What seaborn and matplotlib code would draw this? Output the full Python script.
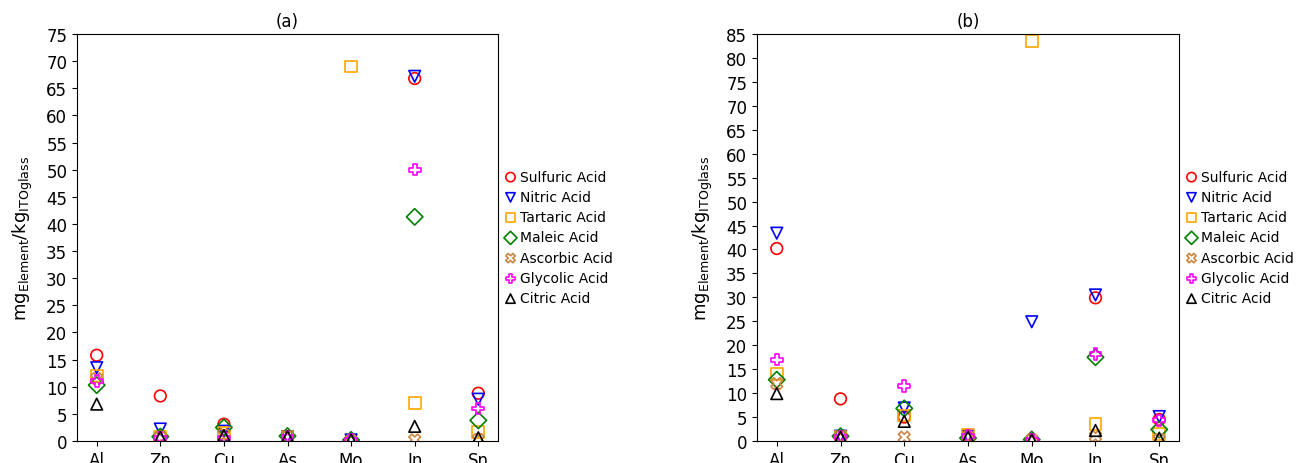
import matplotlib
matplotlib.use("Agg")
import matplotlib.pyplot as plt
import seaborn as sns
import pandas as pd

elements = ["Al", "Zn", "Cu", "As", "Mo", "In", "Sn"]
acids = ["Sulfuric Acid", "Nitric Acid", "Tartaric Acid", "Maleic Acid",
         "Ascorbic Acid", "Glycolic Acid", "Citric Acid"]

# Panel (a)
a_sulfuric = [15.8, 8.3, 3.1, 0.8, 0.2, 66.8, 8.8]
a_nitric = [13.5, 2.2, 1.8, 0.8, 0.2, 67.2, 7.7]
a_tartaric = [12.0, 0.8, 1.5, 0.8, 69.0, 7.0, 1.7]
a_maleic = [10.3, 0.8, 2.5, 0.9, 0.2, 41.3, 3.8]
a_ascorbic = [11.5, 0.7, 1.2, 0.7, 0.1, 0.2, 0.3]
a_glycolic = [11.0, 0.5, 0.5, 0.7, 0.2, 50.0, 6.0]
a_citric = [6.8, 0.7, 1.0, 0.8, 0.2, 2.7, 0.6]

# Panel (b)
b_sulfuric = [40.2, 8.8, 5.0, 1.2, 0.3, 29.9, 4.5]
b_nitric = [43.4, 1.0, 6.9, 1.0, 24.9, 30.5, 5.1]
b_tartaric = [14.0, 0.8, 5.3, 1.2, 83.5, 3.6, 1.4]
b_maleic = [12.8, 1.0, 6.8, 0.6, 0.3, 17.5, 2.4]
b_ascorbic = [12.0, 0.8, 0.8, 0.9, 0.2, 1.0, 0.3]
b_glycolic = [17.0, 0.8, 11.5, 1.0, 0.3, 18.2, 4.3]
b_citric = [9.9, 0.8, 4.1, 0.8, 0.2, 2.2, 0.6]

panel_a = [a_sulfuric, a_nitric, a_tartaric, a_maleic, a_ascorbic, a_glycolic, a_citric]
panel_b = [b_sulfuric, b_nitric, b_tartaric, b_maleic, b_ascorbic, b_glycolic, b_citric]

colors = ["red", "blue", "orange", "green", "peru", "magenta", "black"]
markers = ["o", "v", "s", "D", "X", "P", "^"]

fig = plt.figure(figsize=(12.96, 4.64), dpi=100)
ax_a = fig.add_axes([77 / 1296, 1 - 442 / 464, 421 / 1296, 407 / 464])
ax_b = fig.add_axes([757 / 1296, 1 - 442 / 464, 422 / 1296, 407 / 464])

ylabel = r"$\mathrm{mg_{Element}/kg_{ITOglass}}$"

for ax, panel, title, ymax in [(ax_a, panel_a, "(a)", 75), (ax_b, panel_b, "(b)", 85)]:
    for acid, vals, col, mk in zip(acids, panel, colors, markers):
        df = pd.DataFrame({"element": elements, "value": vals})
        df["pos"] = range(len(elements))
        sns.scatterplot(data=df, x="pos", y="value", ax=ax, marker=mk,
                        color=col, facecolor="none", edgecolor=col,
                        linewidth=1.2, s=70, label=acid, legend=False)
    ax.set_xlim(-0.31, 6.31)
    ax.set_ylim(0, ymax)
    ax.set_xticks(range(len(elements)))
    ax.set_xticklabels(elements, fontsize=12)
    ax.set_yticks(range(0, ymax + 1, 5))
    ax.tick_params(axis="y", labelsize=12)
    ax.set_xlabel("")
    ax.set_ylabel(ylabel, fontsize=13, labelpad=8)
    ax.set_title(title, fontsize=12)
    handles, labels = ax.get_legend_handles_labels()
    ax.legend(handles, labels, loc="center left", bbox_to_anchor=(1.0, 0.5),
              frameon=False, fontsize=10, handletextpad=0.3, handlelength=0.8,
              markerscale=0.8, borderaxespad=0.1, labelspacing=0.45)

fig.savefig("out.png", dpi=100)
